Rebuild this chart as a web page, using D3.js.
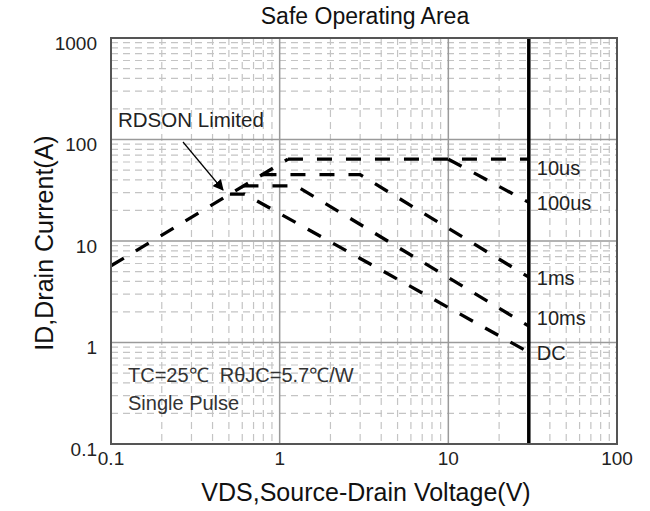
<!DOCTYPE html>
<html>
<head>
<meta charset="utf-8">
<script src="https://cdn.jsdelivr.net/npm/d3@7"></script>
<style>
  body { margin: 0; background: #fff; }
  svg { font-family: "Liberation Sans", Arial, sans-serif; }
</style>
</head>
<body>
<svg width="650" height="511"></svg>
<script>
// SOA curves, [VDS, ID] pairs
var rdson = [[0.1, 5.7], [1.12, 64]];
var curve10us = [[1.12, 64], [30, 64]];
var curve100us = [[10, 64], [30, 24]];
var curve1ms = [[0.78, 45], [3, 45], [30, 4.4]];
var curve10ms = [[0.61, 35], [1.25, 35], [30, 1.45]];
var curveDC = [[0.507, 29], [0.62, 29], [30, 0.8]];
var vdsMax = 30;

var curveNames = ["10us", "100us", "1ms", "10ms", "DC"];
var labelAt = [52, 23.7, 4.3, 1.74, 0.79];

var xTicks = [0.1, 1, 10, 100];
var yTicks = [0.1, 1, 10, 100, 1000];
var xTickLabels = ["0.1", "1", "10", "100"];
var yTickLabels = ["0.1", "1", "10", "100", "1000"];

var svg = d3.select("svg"),
    width = +svg.attr("width"),
    height = +svg.attr("height");

var x = d3.scaleLog().domain([0.1, 100]).range([111, 617]);
var y = d3.scaleLog().domain([0.1, 1000]).range([444, 38]);

// minor values 2..9 in every decade
function minors(lo, hi) {
    var out = [];
    for (var p = lo; p < hi; p++) {
        for (var m = 2; m <= 9; m++) out.push(m * Math.pow(10, p));
    }
    return out;
}

var grid = svg.append("g").attr("class", "grid");

grid.selectAll("line.vminor")
    .data(minors(-1, 2))
    .enter().append("line")
    .attr("x1", function(d) { return x(d); })
    .attr("x2", function(d) { return x(d); })
    .attr("y1", y.range()[1])
    .attr("y2", y.range()[0])
    .style("stroke", "#c4c4c4")
    .style("stroke-width", 1.2)
    .style("stroke-dasharray", "7,5");

grid.selectAll("line.hminor")
    .data(minors(-1, 3))
    .enter().append("line")
    .attr("y1", function(d) { return y(d); })
    .attr("y2", function(d) { return y(d); })
    .attr("x1", x.range()[0])
    .attr("x2", x.range()[1])
    .style("stroke", "#c4c4c4")
    .style("stroke-width", 1.2)
    .style("stroke-dasharray", "7,5");

grid.selectAll("line.vmajor")
    .data(xTicks)
    .enter().append("line")
    .attr("x1", function(d) { return x(d); })
    .attr("x2", function(d) { return x(d); })
    .attr("y1", y.range()[1])
    .attr("y2", y.range()[0])
    .style("stroke", "#9a9a9a")
    .style("stroke-width", 1.5);

grid.selectAll("line.hmajor")
    .data(yTicks)
    .enter().append("line")
    .attr("y1", function(d) { return y(d); })
    .attr("y2", function(d) { return y(d); })
    .attr("x1", x.range()[0])
    .attr("x2", x.range()[1])
    .style("stroke", "#9a9a9a")
    .style("stroke-width", 1.5);

// curves
var line = d3.line()
    .x(function(d) { return x(d[0]); })
    .y(function(d) { return y(d[1]); });

var curves = [rdson, curve10us, curve100us, curve1ms, curve10ms, curveDC];
svg.append("g").selectAll("path")
    .data(curves)
    .enter().append("path")
    .attr("d", line)
    .style("fill", "none")
    .style("stroke", "#000")
    .style("stroke-width", 3.3)
    .style("stroke-dasharray", "15,14");

// VDS max line
svg.append("line")
    .attr("x1", x(vdsMax)).attr("x2", x(vdsMax))
    .attr("y1", y.range()[1]).attr("y2", y.range()[0])
    .style("stroke", "#000")
    .style("stroke-width", 3.5);

// frame
svg.append("rect")
    .attr("x", x.range()[0]).attr("y", y.range()[1])
    .attr("width", x.range()[1] - x.range()[0])
    .attr("height", y.range()[0] - y.range()[1])
    .style("fill", "none")
    .style("stroke", "#555")
    .style("stroke-width", 2);

// tick labels
svg.append("g").selectAll("text")
    .data(yTicks)
    .enter().append("text")
    .attr("x", 97)
    .attr("y", function(d) { return y(d) + 5; })
    .attr("dy", "0.35em")
    .attr("text-anchor", "end")
    .style("font-size", "19px")
    .style("fill", "#222")
    .text(function(d, i) { return yTickLabels[i]; });

svg.append("g").selectAll("text")
    .data(xTicks)
    .enter().append("text")
    .attr("x", function(d) { return x(d); })
    .attr("y", 458)
    .attr("dy", "0.35em")
    .attr("text-anchor", "middle")
    .style("font-size", "19px")
    .style("fill", "#222")
    .text(function(d, i) { return xTickLabels[i]; });

// curve labels
svg.append("g").selectAll("text")
    .data(curveNames)
    .enter().append("text")
    .attr("x", x(vdsMax) + 8)
    .attr("y", function(d, i) { return y(labelAt[i]); })
    .attr("dy", "0.35em")
    .style("font-size", "20px")
    .style("fill", "#222")
    .text(function(d) { return d; });

// titles
svg.append("text")
    .attr("x", 365).attr("y", 16)
    .attr("dy", "0.35em")
    .attr("text-anchor", "middle")
    .style("font-size", "23px")
    .style("fill", "#111")
    .text("Safe Operating Area");

svg.append("text")
    .attr("x", 366).attr("y", 492)
    .attr("dy", "0.35em")
    .attr("text-anchor", "middle")
    .style("font-size", "25px")
    .style("fill", "#111")
    .text("VDS,Source-Drain Voltage(V)");

svg.append("text")
    .attr("transform", "translate(44,243) rotate(-90)")
    .attr("dy", "0.35em")
    .attr("text-anchor", "middle")
    .style("font-size", "25px")
    .style("fill", "#111")
    .text("ID,Drain Current(A)");

// annotations
svg.append("text")
    .attr("x", 118).attr("y", 120)
    .attr("dy", "0.35em")
    .style("font-size", "20.5px")
    .style("fill", "#222")
    .text("RDSON Limited");

svg.append("defs").append("marker")
    .attr("id", "arrow")
    .attr("viewBox", "0 0 10 10")
    .attr("refX", 9).attr("refY", 5)
    .attr("markerWidth", 9).attr("markerHeight", 9)
    .attr("orient", "auto")
    .append("path")
    .attr("d", "M0,0 L10,5 L0,10 Z")
    .style("fill", "#000");

svg.append("line")
    .attr("x1", 183).attr("y1", 142)
    .attr("x2", 223).attr("y2", 190)
    .attr("marker-end", "url(#arrow)")
    .style("stroke", "#000")
    .style("stroke-width", 1.2);

svg.append("text")
    .attr("x", 128).attr("y", 375)
    .attr("dy", "0.35em")
    .style("font-size", "20px")
    .style("white-space", "pre")
    .style("fill", "#333")
    .text("TC=25\u2103  R\u03b8JC=5.7\u2103/W");

svg.append("text")
    .attr("x", 128).attr("y", 403)
    .attr("dy", "0.35em")
    .style("font-size", "20px")
    .style("fill", "#333")
    .text("Single Pulse");
</script>
</body>
</html>
